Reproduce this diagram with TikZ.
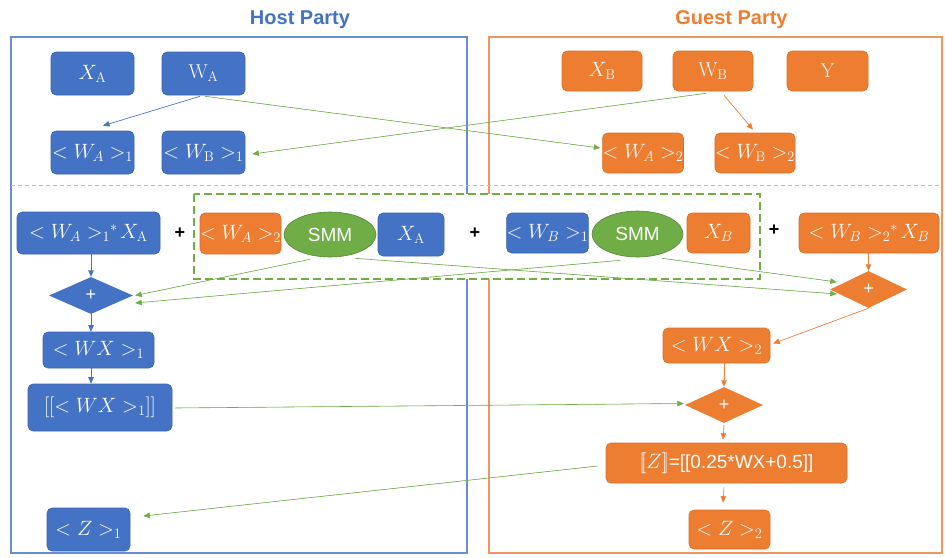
\documentclass[tikz,border=0pt]{standalone}
\usepackage{fontspec}
\newfontfamily\arial{Liberation Sans}
\usetikzlibrary{shapes.geometric,arrows.meta,calc}

\definecolor{hostblue}{HTML}{4472C4}
\definecolor{hostblueD}{HTML}{3B64AE}
\definecolor{guestorange}{HTML}{ED7D31}
\definecolor{guestorangeD}{HTML}{DC6E26}
\definecolor{smmgreen}{HTML}{70AD47}
\definecolor{smmgreenD}{HTML}{54883A}
\definecolor{sepline}{HTML}{AEB9EE}
\definecolor{hostframe}{HTML}{6A8CD2}
\definecolor{guestframe}{HTML}{F0955E}

\newcommand\cellfont{\fontsize{20}{23}\selectfont}
% product sign set tight after the share index
\newcommand\prodstar{\mkern-5mu{}^{\ast}\mkern2mu}

\begin{document}
\begin{tikzpicture}[x=1pt,y=-1pt,
  cell/.style={rectangle, rounded corners=5pt, inner sep=0pt, text=white,
               line width=0.6pt, font=\cellfont},
  hb/.style={cell, fill=hostblue, draw=hostblueD},
  gb/.style={cell, fill=guestorange, draw=guestorangeD},
  smm/.style={ellipse, fill=smmgreen, draw=smmgreenD, line width=0.6pt,
              inner sep=0pt, text=white, minimum width=92pt, minimum height=46pt,
              font=\arial\fontsize{19}{21}\selectfont},
  dmd/.style={diamond, inner sep=0pt, text=white,
              font=\arial\fontsize{18}{20}\selectfont},
  plus/.style={inner sep=0pt, font=\arial\bfseries\fontsize{18}{20}\selectfont},
  title/.style={font=\arial\bfseries\fontsize{20}{22}\selectfont, inner sep=0pt},
  arr/.style={-{Triangle[length=6.5pt,width=5.5pt]}, line width=0.6pt},
  garr/.style={arr, draw=smmgreen, fill=smmgreen},
  barr/.style={arr, draw=hostblue, fill=hostblue},
  oarr/.style={arr, draw=guestorange, fill=guestorange}]

\useasboundingbox (0,0) rectangle (945,557);

% party frames and titles
\draw[hostframe, line width=1.2pt] (11,37) rectangle (467,553);
\draw[guestframe, line width=1.2pt] (489,37) rectangle (942,553);
\node[title, text=hostblue] (hosttitle) at (300,20) {Host Party};
\node[title, text=guestorange] (guesttitle) at (731.5,20) {Guest Party};

% phase separator
\draw[sepline, line width=0.8pt, dash pattern=on 4pt off 3pt] (11,185) -- (942,185);

% secure matrix multiplication region
\draw[smmgreen, line width=1.2pt, fill=white, dash pattern=on 8pt off 4pt]
  (194,194) rectangle (760,279);

% host: inputs and shares
\node[hb, minimum width=83pt, minimum height=43pt] (XA) at (92.5,73.5) {$X_{\mathrm{A}}$};
\node[hb, minimum width=83pt, minimum height=43pt] (WA) at (203.5,73.5) {$\mathrm{W}_{\mathrm{A}}$};
\node[hb, minimum width=83pt, minimum height=43pt] (WA1) at (92.5,152.5) {$<W_A>_1$};
\node[hb, minimum width=83pt, minimum height=43pt] (WB1) at (203.5,152.5) {$<W_{\mathrm{B}}>_1$};

% guest: inputs and shares
\node[gb, minimum width=80pt, minimum height=40pt] (XB) at (602,71) {$X_{\mathrm{B}}$};
\node[gb, minimum width=80pt, minimum height=40pt] (WB) at (713,71) {$\mathrm{W}_{\mathrm{B}}$};
\node[gb, minimum width=81pt, minimum height=40pt] (Y) at (827.5,71) {$\mathrm{Y}$};
\node[gb, minimum width=80pt, minimum height=40pt] (WA2) at (643,153) {$<W_A>_2$};
\node[gb, minimum width=80pt, minimum height=40pt] (WB2) at (755,153) {$<W_{\mathrm{B}}>_2$};

% product terms
\node[hb, minimum width=143pt, minimum height=42pt] (P1) at (88.5,233) {$<W_A>_1\prodstar X_{\mathrm{A}}$};
\node[plus] (plus1) at (180,233) {+};
\node[gb, minimum width=81pt, minimum height=41pt] (WA2m) at (240.5,233.5) {$<W_A>_2$};
\node[smm, minimum width=92pt, minimum height=45pt] (SMM1) at (330,234.5) {SMM};
\node[hb, minimum width=66pt, minimum height=43pt] (XAm) at (411,234.5) {$X_{\mathrm{A}}$};
\node[plus] (plus2) at (475,233) {+};
\node[hb, minimum width=81pt, minimum height=40pt] (WB1m) at (547.5,233) {$<W_B>_1$};
\node[smm, minimum width=91pt, minimum height=46pt] (SMM2) at (637.5,234) {SMM};
\node[gb, minimum width=63pt, minimum height=40pt] (XBm) at (718.5,233) {$X_B$};
\node[plus] (plus3) at (774,230) {+};
\node[gb, minimum width=140pt, minimum height=40pt] (P4) at (869,233) {$<W_B>_2\prodstar X_B$};

% host: aggregation
\node[dmd, fill=hostblue, minimum width=84pt, minimum height=37pt] (D1) at (91,295.5) {+};
\node[hb, minimum width=111pt, minimum height=36pt] (WX1) at (98.5,350) {$<WX>_1$};
\node[hb, minimum width=144pt, minimum height=47pt] (EWX1) at (100,407.5) {$[[<WX>_1]]$};
\node[hb, minimum width=83pt, minimum height=43pt] (Z1) at (88.5,529.5) {$<Z>_1$};

% guest: aggregation and activation
\node[dmd, fill=guestorange, minimum width=77pt, minimum height=37pt] (D2) at (868.5,289.5) {+};
\node[gb, minimum width=107pt, minimum height=35pt] (WX2) at (716.5,345.5) {$<WX>_2$};
\node[dmd, fill=guestorange, minimum width=78pt, minimum height=36pt] (D3) at (724,405) {+};
\node[gb, minimum width=241pt, minimum height=40pt] (Z) at (726.5,463)
  {$\Bigl[\!\Bigl[Z\Bigr]\!\Bigr]${\arial\fontsize{19}{21}\selectfont=[[0.25*WX+0.5]]}};
\node[gb, minimum width=81pt, minimum height=39pt] (Z2) at (729.5,529.5) {$<Z>_2$};

% share distribution
\draw[barr] ($(WA.south)+(-3.5,1)$) -- ($(WA1.north)+(10.5,-5)$);
\draw[garr] ($(WA.south)+(1.5,1)$) -- ($(WA2.west)+(-2,-5)$);
\draw[garr] ($(WB.south)+(-7,2)$) -- ($(WB1.east)+(7,1.5)$);
\draw[oarr] ($(WB.south)+(11,4)$) -- ($(WB2.north)+(-2,-3)$);

% summation of terms
\draw[barr] (D1.north |- P1.south) -- (D1.north);
\draw[garr] ($(SMM1.south)+(-20,2)$) -- ($(D1.east)+(2,0)$);
\draw[garr] ($(SMM2.south)+(-17,3)$) -- ($(D1.east)+(2,7.5)$);
\draw[garr] ($(SMM1.south)+(25,1)$) -- ($(D2.west)+(7,4.5)$);
\draw[garr] ($(SMM2.south)+(24.5,1)$) -- ($(D2.west)+(7,-7.5)$);
\draw[oarr] (D2.north |- P4.south) -- (D2.north);

% host chain
\draw[barr] (D1.south) -- (D1.south |- WX1.north);
\draw[barr] (D1.south |- WX1.south) -- (D1.south |- EWX1.north);
\draw[garr] ($(EWX1.east)+(3,0.5)$) -- ($(D3.west)+(-1,-1.5)$);

% guest chain
\draw[oarr] (D2.south) -- ($(WX2.east)+(3,-2)$);
\draw[oarr] (D3.north |- WX2.south) -- (D3.north);
\draw[oarr] ($(D3.south)+(0,2)$) -- ($(Z.north)+(-3.5,-3)$);
\draw[oarr] ($(Z.south)+(-2.5,4)$) -- ($(Z2.north)+(-6.5,-7)$);
\draw[garr] ($(Z.west)+(-8,3)$) -- ($(Z1.east)+(13,-13.5)$);
\end{tikzpicture}
\end{document}
